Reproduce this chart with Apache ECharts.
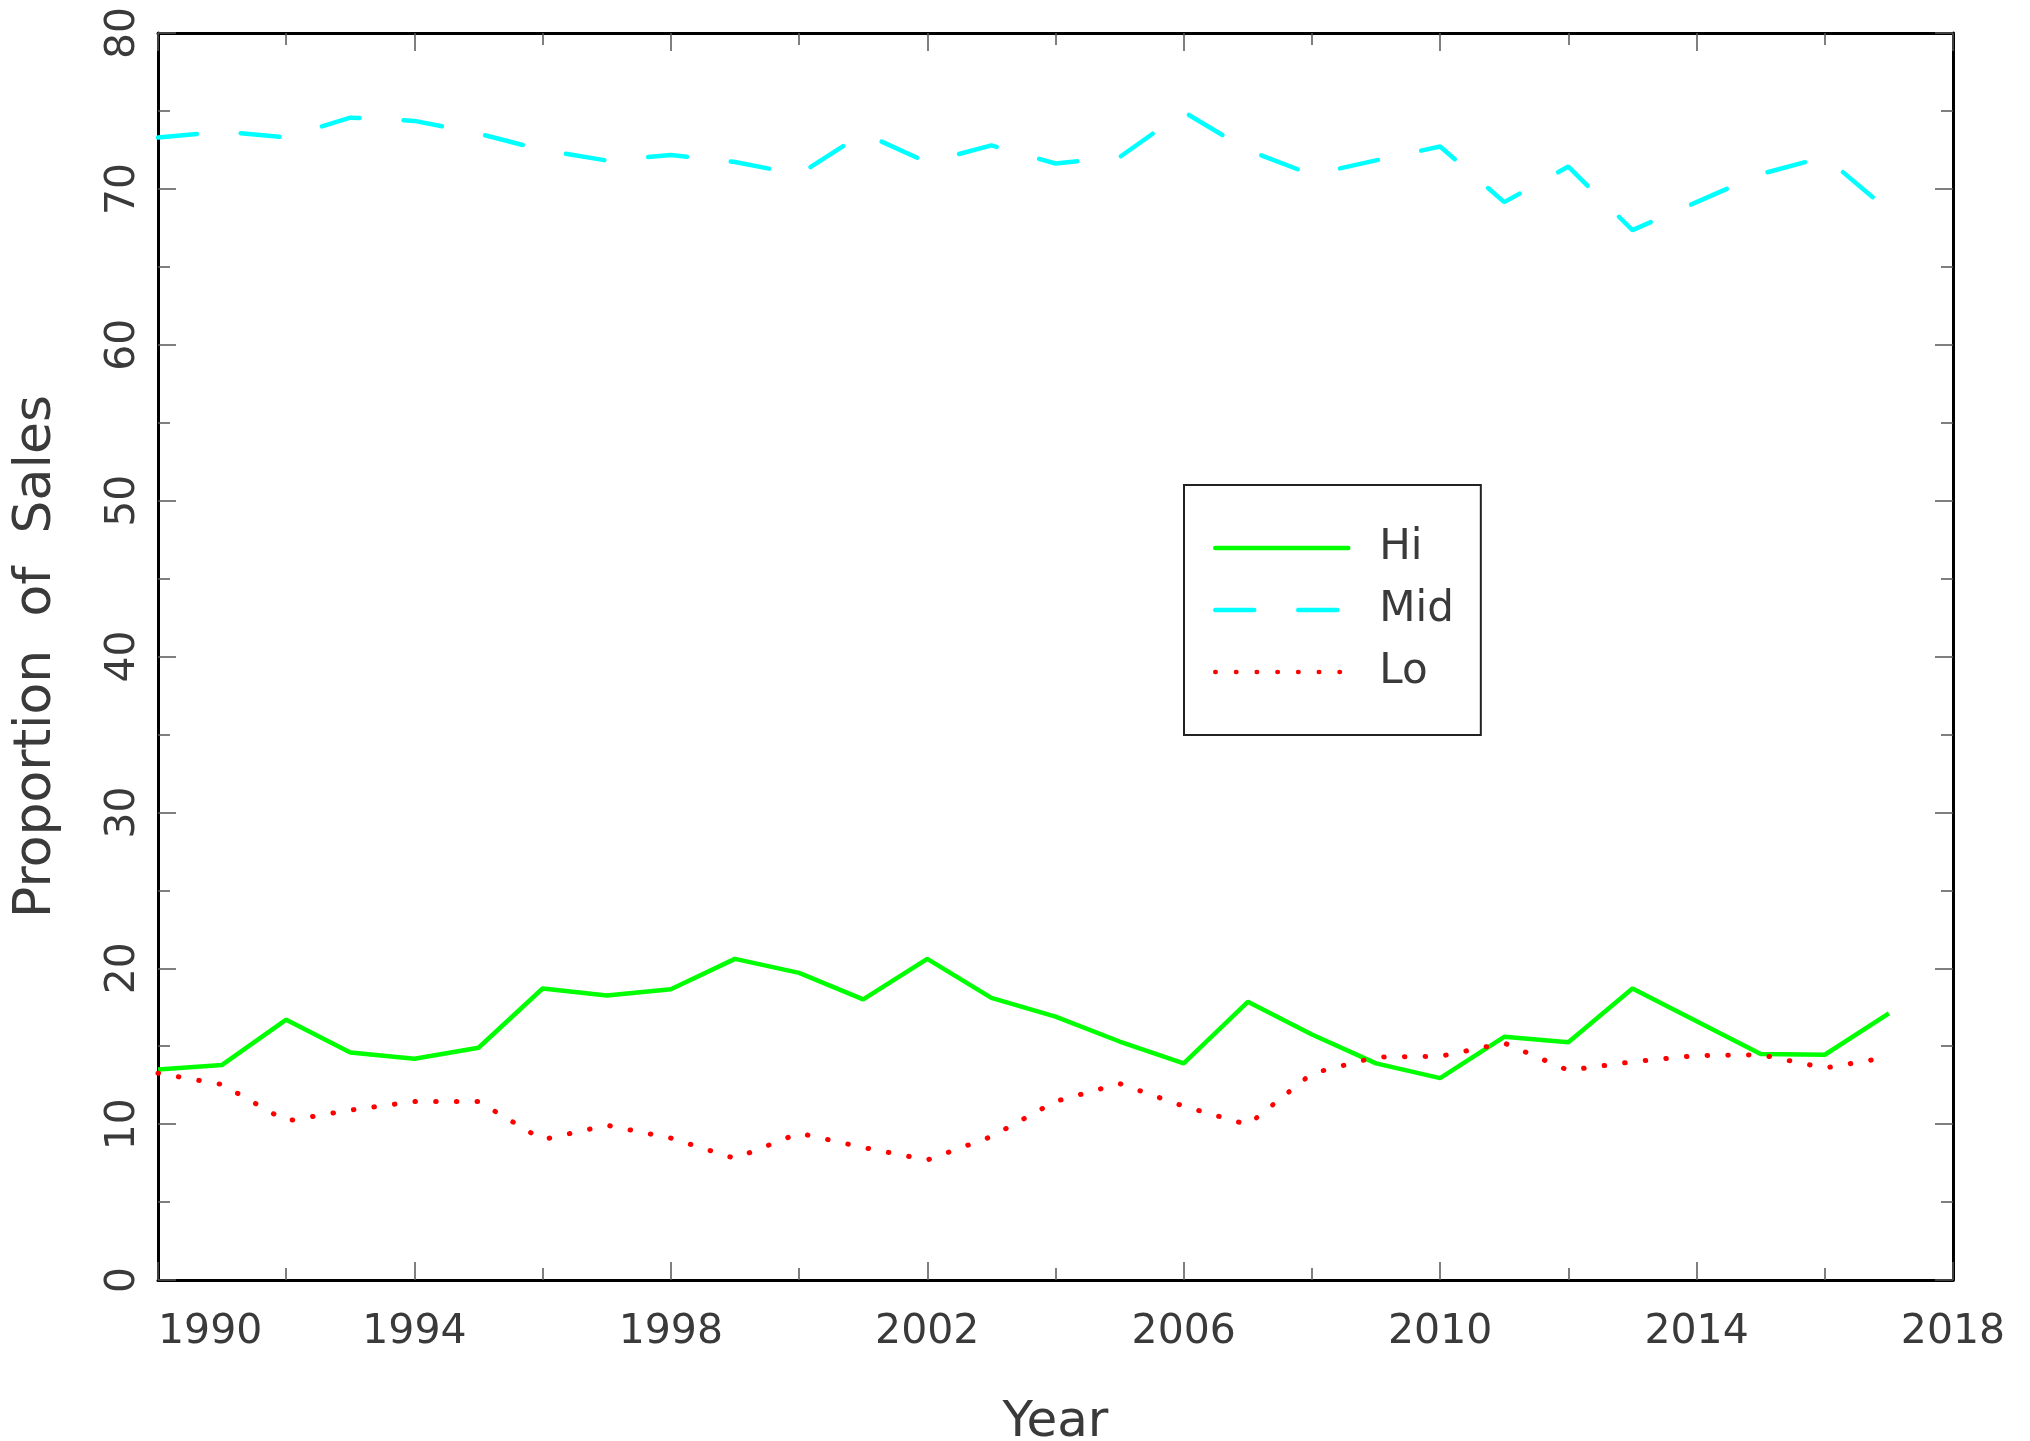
<!DOCTYPE html>
<html>
<head>
<meta charset="utf-8">
<script src="https://cdn.jsdelivr.net/npm/echarts@6/dist/echarts.min.js"></script>
<style>
    html, body {margin: 0; padding: 0; background: #fff;}
    #chart {width: 2030px; height: 1441px;}
</style>
</head>
<body>
<div id="chart"></div>
<script>
// years on the x axis, one point per year
const years = [1990, 1991, 1992, 1993, 1994, 1995, 1996, 1997, 1998, 1999,
    2000, 2001, 2002, 2003, 2004, 2005, 2006, 2007, 2008, 2009,
    2010, 2011, 2012, 2013, 2014, 2015, 2016, 2017];

// proportion of sales by segment (%)
const hi = [13.5, 13.8, 16.7, 14.6, 14.2, 14.9, 18.7, 18.25, 18.65, 20.6,
    19.7, 18.0, 20.6, 18.1, 16.9, 15.3, 13.9, 17.85, 15.75, 13.9,
    12.95, 15.6, 15.25, 18.7, 16.6, 14.5, 14.45, 17.1];
const mid = [73.3, 73.67, 73.31, 74.57, 74.36, 73.55, 72.49, 71.82, 72.17, 71.72,
    70.93, 73.57, 71.7, 72.79, 71.63, 72.04, 74.94, 72.48, 70.91, 71.83,
    72.72, 69.15, 71.43, 67.35, 69.15, 70.95, 72.05, 68.6];
const lo = [13.27, 12.54, 10.2, 10.9, 11.45, 11.45, 9.0, 9.93, 9.1, 7.8,
    9.42, 8.5, 7.7, 9.2, 11.46, 12.6, 11.15, 9.96, 13.25, 14.3,
    14.35, 15.2, 13.45, 14.0, 14.4, 14.45, 13.6, 14.3];

const seriesNames = ['Hi', 'Mid', 'Lo'];

const FONT = '"DejaVu Sans", sans-serif';
const TXT = '#3a3a3a';

function pairs(vals) {
    return years.map((y, i) => [y, vals[i]]);
}

const tickStyle = {color: '#555', width: 1.5};

function frameAxis(extra) {
    return Object.assign({
        type: 'value',
        axisLine: {show: true, onZero: false, lineStyle: {color: '#000', width: 3}},
        axisTick: {show: true, inside: true, length: 18, lineStyle: tickStyle},
        minorTick: {show: true, splitNumber: 2, length: 12, lineStyle: tickStyle},
        splitLine: {show: false},
        minorSplitLine: {show: false}
    }, extra);
}

const chart = echarts.init(document.getElementById('chart'));

const option = {
    animation: false,
    backgroundColor: '#fff',
    grid: {left: 158, right: 77, top: 33, bottom: 161, outerBoundsMode: 'none', containLabel: false},
    legend: {
        data: seriesNames,
        orient: 'vertical',
        left: 1184,
        top: 485,
        itemWidth: 133,
        itemHeight: 20,
        itemGap: 20,
        padding: [42, 27, 42, 29],
        borderColor: '#222',
        borderWidth: 2,
        itemStyle: {opacity: 0},
        lineStyle: {width: 4.5, cap: 'round'},
        textStyle: {fontSize: 42, color: TXT, fontFamily: FONT, padding: [0, 0, 0, 26]}
    },
    xAxis: [
        frameAxis({
            position: 'bottom',
            min: 1990, max: 2018, interval: 4,
            name: 'Year',
            nameLocation: 'middle',
            nameGap: 118,
            nameTextStyle: {fontSize: 50, color: TXT, fontFamily: FONT},
            axisLabel: {
                fontSize: 41, color: TXT, fontFamily: FONT, margin: 32, alignMinLabel: 'left',
                formatter: v => String(v)
            }
        }),
        frameAxis({
            position: 'top',
            min: 1990, max: 2018, interval: 4,
            axisLabel: {show: false}
        })
    ],
    yAxis: [
        frameAxis({
            position: 'left',
            min: 0, max: 80, interval: 10,
            name: 'Proportion  of  Sales',
            nameLocation: 'middle',
            nameGap: 96,
            nameRotate: 90,
            nameTextStyle: {fontSize: 52, color: TXT, fontFamily: FONT},
            axisLabel: {fontSize: 41, color: TXT, fontFamily: FONT, rotate: 90, margin: 14}
        }),
        frameAxis({
            position: 'right',
            min: 0, max: 80, interval: 10,
            axisLabel: {show: false}
        })
    ],
    series: [
        {
            name: 'Hi',
            type: 'line',
            data: pairs(hi),
            symbol: 'none',
            color: '#00ff00',
            lineStyle: {color: '#00ff00', width: 4.5}
        },
        {
            name: 'Mid',
            type: 'line',
            data: pairs(mid),
            symbol: 'none',
            color: '#00ffff',
            lineStyle: {color: '#00ffff', width: 4.5, type: [39, 44], cap: 'round'}
        },
        {
            name: 'Lo',
            type: 'line',
            data: pairs(lo),
            symbol: 'none',
            color: '#ff0000',
            lineStyle: {color: '#ff0000', width: 5, type: [0.5, 20.2], cap: 'round'}
        }
    ]
};

chart.setOption(option);
</script>
</body>
</html>
